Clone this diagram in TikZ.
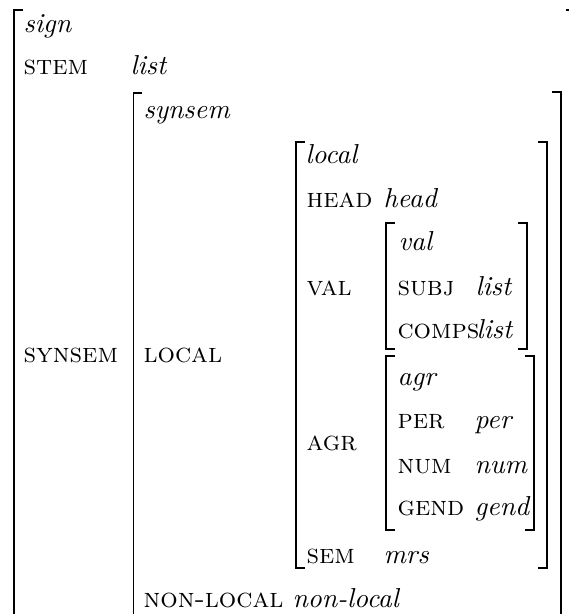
\documentclass[tikz,border=0pt]{standalone}
\usepackage{fontspec}
\begin{document}
\begin{tikzpicture}[x=0.365pt,y=-0.365pt,
  br/.style={line width=0.7pt,line cap=rect},
  ty/.style={anchor=base west,inner sep=0pt,font=\itshape},
  attr/.style={anchor=base west,inner sep=0pt,font=\scshape}]
\useasboundingbox (0,0) rectangle (569,614);
\clip (0,0) rectangle (569,614);
% brackets
\draw[br] (22,10) -- (14,10) -- (14,640);
\draw[br] (567,10) -- (575,10) -- (575,640);
\draw[br] (141.5,93) -- (133.5,93) -- (133.5,640);
\draw[br] (553,92) -- (561,92) -- (561,640);
\draw[br] (304,142) -- (296,142) -- (296,568) -- (304,568);
\draw[br] (539,142) -- (547,142) -- (547,568) -- (539,568);
\draw[br] (394,223) -- (386,223) -- (386,349) -- (394,349);
\draw[br] (519,223) -- (527,223) -- (527,349) -- (519,349);
\draw[br] (394,356) -- (386,356) -- (386,530) -- (394,530);
\draw[br] (526,356) -- (534,356) -- (534,530) -- (526,530);
% texts
\node[ty] (tsign) at (23,32) {sign};
\node[attr] (astem) at (23,74) {stem};
\node[ty] (vstem) at (130,74) {list};
\node[ty] (tsynsem) at (143,118) {synsem};
\node[attr] (asynsem) at (23,362) {synsem};
\node[attr] (alocal) at (143,362) {local};
\node[ty] (tlocal) at (305,163) {local};
\node[attr] (ahead) at (306,207) {head};
\node[ty] (vhead) at (383,207) {head};
\node[ty] (tval) at (398,250) {val};
\node[attr] (aval) at (306,295) {val};
\node[attr] (asubj) at (397,295) {subj};
\node[ty] (vsubj) at (475,295) {list};
\node[attr] (acomps) at (397,338) {comps};
\node[ty] (vcomps) at (476,338) {list};
\node[attr] (aagr) at (306,450) {agr};
\node[ty] (tagr) at (397,385) {agr};
\node[attr] (aper) at (397,428) {per};
\node[ty] (vper) at (474,428) {per};
\node[attr] (anum) at (397,473) {num};
\node[ty] (vnum) at (474,473) {num};
\node[attr] (agend) at (397,515) {gend};
\node[ty] (vgend) at (474,515) {gend};
\node[attr] (asem) at (306,563) {sem};
\node[ty] (vsem) at (383,563) {mrs};
\node[attr] (anonloc) at (143,607) {non-local};
\node[ty] (vnonloc) at (292,607) {non-local};
\end{tikzpicture}
\end{document}
